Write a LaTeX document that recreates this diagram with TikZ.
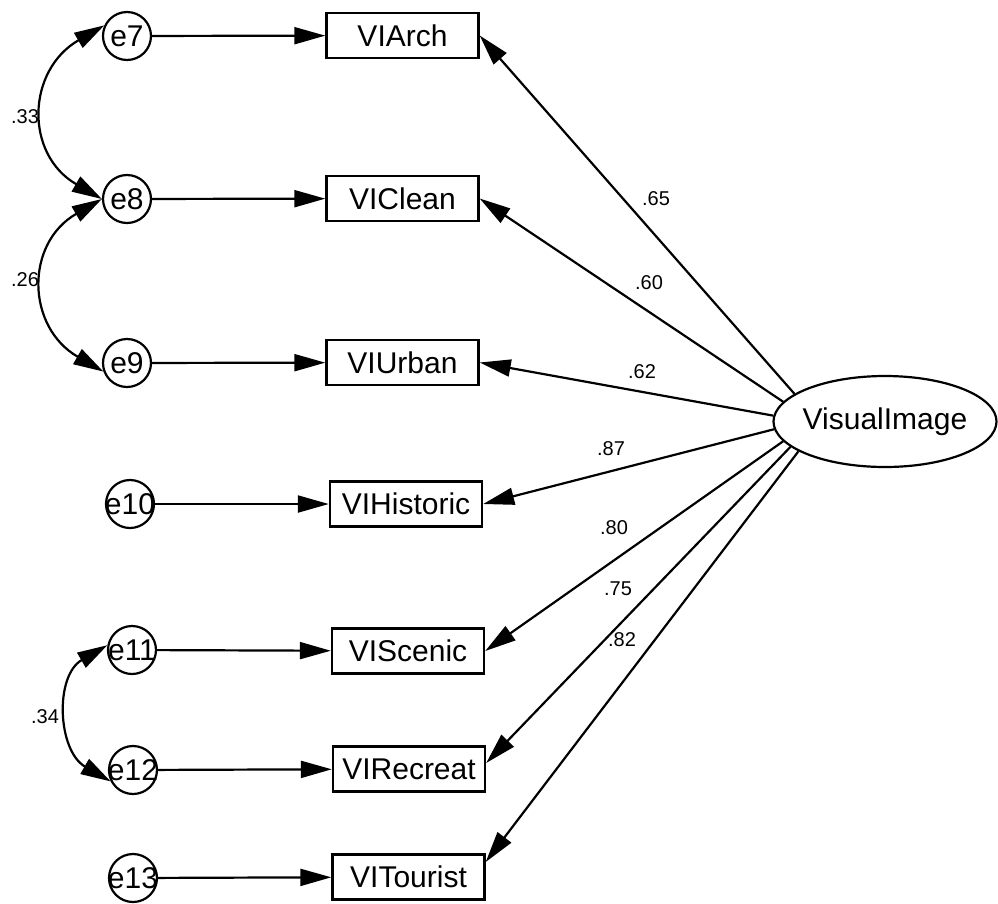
\documentclass[tikz,border=0pt]{standalone}
\usepackage{fontspec}
\setmainfont{Liberation Sans}
\usetikzlibrary{arrows.meta,shapes.geometric}

\begin{document}
\begin{tikzpicture}[x=1pt,y=1pt,
  every node/.style={font=\fontsize{30}{36}\selectfont},
  errvar/.style={draw, circle, line width=2.2pt, minimum size=48pt, inner sep=0pt},
  obsvar/.style={draw, rectangle, line width=2.4pt, minimum width=152pt, minimum height=45pt, inner sep=0pt},
  latvar/.style={draw, ellipse, line width=2.2pt, minimum width=223pt, minimum height=91pt, inner sep=0pt},
  regarrow/.style={line width=2.2pt, -{Triangle[length=31pt,width=17pt]}},
  covarrow/.style={line width=2.2pt, {Triangle[length=30pt,width=17pt]}-{Triangle[length=30pt,width=17pt]}},
  coef/.style={font=\fontsize{20}{24}\selectfont, inner sep=0pt}
]
\useasboundingbox (0,0) rectangle (998,-903);

% error terms
\node[errvar] (e7)  at (127,-36)  {\makebox[0pt]{e7}};
\node[errvar] (e8)  at (127,-199) {\makebox[0pt]{e8}};
\node[errvar] (e9)  at (127,-363) {\makebox[0pt]{e9}};
\node[errvar] (e10) at (130,-504) {\makebox[0pt]{e10}};
\node[errvar] (e11) at (132,-650) {\makebox[0pt]{e11}};
\node[errvar] (e12) at (133,-770) {\makebox[0pt]{e12}};
\node[errvar] (e13) at (133,-878) {\makebox[0pt]{e13}};

% observed indicators
\node[obsvar] (arch)     at (402.5,-35.5)  {VIArch};
\node[obsvar] (clean)    at (402.5,-198.5) {VIClean};
\node[obsvar] (urban)    at (402.5,-362.5) {VIUrban};
\node[obsvar] (historic) at (406,-504)     {VIHistoric};
\node[obsvar] (scenic)   at (408,-651)     {VIScenic};
\node[obsvar] (recreat)  at (409,-769)     {VIRecreat};
\node[obsvar] (tourist)  at (408.5,-877)   {VITourist};

% latent factor
\node[latvar] (vi) at (885,-421.5) {\makebox[0pt]{VisualImage}};

% error paths
\draw[regarrow] (e7)  -- (arch);
\draw[regarrow] (e8)  -- (clean);
\draw[regarrow] (e9)  -- (urban);
\draw[regarrow] (e10) -- (historic);
\draw[regarrow] (e11) -- (scenic);
\draw[regarrow] (e12) -- (recreat);
\draw[regarrow] (e13) -- (tourist);

% factor loadings
\draw[regarrow] (vi.163.3) -- (arch.east);
\draw[regarrow] (vi.169.8) -- (clean.east);
\draw[regarrow] (vi.177.7) -- (urban.east);
\draw[regarrow] (vi.184.3) -- (historic.east);
\draw[regarrow] (vi.191.4) -- (scenic.east);
\draw[regarrow] (vi.195.1) -- ([yshift=6pt]recreat.east);
\draw[regarrow] (vi.199.3) -- ([yshift=15pt]tourist.east);

% error covariances
\draw[covarrow] (e7.155) to[out=210, in=150, looseness=1.32] (e8.180);
\draw[covarrow] (e8.180) to[out=210, in=150, looseness=1.32] (e9.200);
\draw[covarrow] (e11.169) to[out=210, in=150, looseness=1.15] (e12.207);

% coefficients
\node[coef] (l65) at (656,-199) {.65};
\node[coef] (l60) at (649,-283) {.60};
\node[coef] (l62) at (642,-372) {.62};
\node[coef] (l87) at (611,-449) {.87};
\node[coef] (l80) at (614,-528) {.80};
\node[coef] (l75) at (618,-589) {.75};
\node[coef] (l82) at (622,-640) {.82};
\node[coef] (c33) at (25,-117) {.33};
\node[coef] (c26) at (25,-280) {.26};
\node[coef] (c34) at (45,-717) {.34};
\end{tikzpicture}
\end{document}
